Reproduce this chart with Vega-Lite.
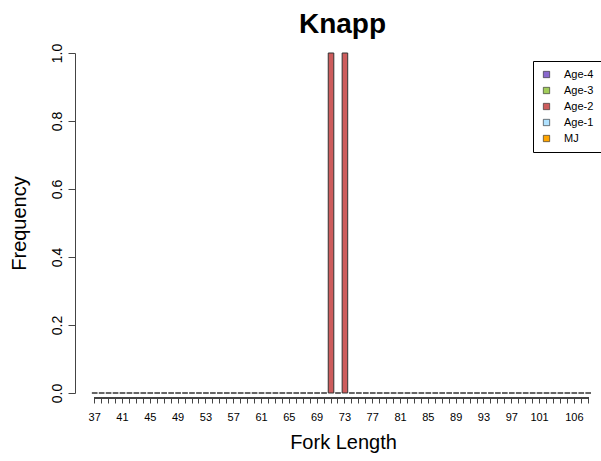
{
  "$schema": "https://vega.github.io/schema/vega-lite/v6.json",
  "width": 513,
  "height": 340,
  "autosize": "none",
  "padding": {"left": 78, "top": 53, "right": 10, "bottom": 68},
  "background": "white",
  "config": {
    "view": {"stroke": null},
    "font": "Liberation Sans"
  },
  "title": {
    "text": "Knapp",
    "fontSize": 28,
    "fontWeight": "bold",
    "font": "Liberation Sans",
    "color": "black",
    "anchor": "middle",
    "frame": "group",
    "dx": 8,
    "dy": 36,
    "offset": 18,
    "baseline": "alphabetic"
  },
  "data": {
    "values": [
      {"length": 37, "age": "Age-2", "freq": 0}, {"length": 38, "age": "Age-2", "freq": 0},
      {"length": 39, "age": "Age-2", "freq": 0}, {"length": 40, "age": "Age-2", "freq": 0},
      {"length": 41, "age": "Age-2", "freq": 0}, {"length": 42, "age": "Age-2", "freq": 0},
      {"length": 43, "age": "Age-2", "freq": 0}, {"length": 44, "age": "Age-2", "freq": 0},
      {"length": 45, "age": "Age-2", "freq": 0}, {"length": 46, "age": "Age-2", "freq": 0},
      {"length": 47, "age": "Age-2", "freq": 0}, {"length": 48, "age": "Age-2", "freq": 0},
      {"length": 49, "age": "Age-2", "freq": 0}, {"length": 50, "age": "Age-2", "freq": 0},
      {"length": 51, "age": "Age-2", "freq": 0}, {"length": 52, "age": "Age-2", "freq": 0},
      {"length": 53, "age": "Age-2", "freq": 0}, {"length": 54, "age": "Age-2", "freq": 0},
      {"length": 55, "age": "Age-2", "freq": 0}, {"length": 56, "age": "Age-2", "freq": 0},
      {"length": 57, "age": "Age-2", "freq": 0}, {"length": 58, "age": "Age-2", "freq": 0},
      {"length": 59, "age": "Age-2", "freq": 0}, {"length": 60, "age": "Age-2", "freq": 0},
      {"length": 61, "age": "Age-2", "freq": 0}, {"length": 62, "age": "Age-2", "freq": 0},
      {"length": 63, "age": "Age-2", "freq": 0}, {"length": 64, "age": "Age-2", "freq": 0},
      {"length": 65, "age": "Age-2", "freq": 0}, {"length": 66, "age": "Age-2", "freq": 0},
      {"length": 67, "age": "Age-2", "freq": 0}, {"length": 68, "age": "Age-2", "freq": 0},
      {"length": 69, "age": "Age-2", "freq": 0}, {"length": 70, "age": "Age-2", "freq": 0},
      {"length": 71, "age": "Age-2", "freq": 1}, {"length": 72, "age": "Age-2", "freq": 0},
      {"length": 73, "age": "Age-2", "freq": 1}, {"length": 74, "age": "Age-2", "freq": 0},
      {"length": 75, "age": "Age-2", "freq": 0}, {"length": 76, "age": "Age-2", "freq": 0},
      {"length": 77, "age": "Age-2", "freq": 0}, {"length": 78, "age": "Age-2", "freq": 0},
      {"length": 79, "age": "Age-2", "freq": 0}, {"length": 80, "age": "Age-2", "freq": 0},
      {"length": 81, "age": "Age-2", "freq": 0}, {"length": 82, "age": "Age-2", "freq": 0},
      {"length": 83, "age": "Age-2", "freq": 0}, {"length": 84, "age": "Age-2", "freq": 0},
      {"length": 85, "age": "Age-2", "freq": 0}, {"length": 86, "age": "Age-2", "freq": 0},
      {"length": 87, "age": "Age-2", "freq": 0}, {"length": 88, "age": "Age-2", "freq": 0},
      {"length": 89, "age": "Age-2", "freq": 0}, {"length": 90, "age": "Age-2", "freq": 0},
      {"length": 91, "age": "Age-2", "freq": 0}, {"length": 92, "age": "Age-2", "freq": 0},
      {"length": 93, "age": "Age-2", "freq": 0}, {"length": 94, "age": "Age-2", "freq": 0},
      {"length": 95, "age": "Age-2", "freq": 0}, {"length": 96, "age": "Age-2", "freq": 0},
      {"length": 97, "age": "Age-2", "freq": 0}, {"length": 98, "age": "Age-2", "freq": 0},
      {"length": 99, "age": "Age-2", "freq": 0}, {"length": 100, "age": "Age-2", "freq": 0},
      {"length": 101, "age": "Age-2", "freq": 0}, {"length": 102, "age": "Age-2", "freq": 0},
      {"length": 103, "age": "Age-2", "freq": 0}, {"length": 104, "age": "Age-2", "freq": 0},
      {"length": 105, "age": "Age-2", "freq": 0}, {"length": 106, "age": "Age-2", "freq": 0},
      {"length": 107, "age": "Age-2", "freq": 0}, {"length": 108, "age": "Age-2", "freq": 0}
    ]
  },
  "layer": [
    {
      "mark": {"type": "bar", "stroke": "#333333", "strokeWidth": 1},
      "encoding": {
        "x": {
          "field": "length",
          "type": "ordinal",
          "scale": {"paddingInner": 0.2, "paddingOuter": 1, "align": 1, "round": false},
          "axis": {
            "title": "Fork Length",
            "titleFontSize": 20,
            "titleFontWeight": "normal",
            "titleFont": "Liberation Sans",
            "titleColor": "black",
            "titleX": 265,
            "titleY": 44,
            "titleBaseline": "middle",
            "labelAngle": 0,
            "labelFontSize": 11,
            "labelColor": "black",
            "labelPadding": 8,
            "labelOverlap": false,
            "labelExpr": "indexof([37,41,45,49,53,57,61,65,69,73,77,81,85,89,93,97,101,106], datum.value) >= 0 ? datum.label : ''",
            "tickSize": 5,
            "tickColor": "#444444",
            "domain": false,
            "offset": 5,
            "grid": false
          }
        },
        "y": {
          "field": "freq",
          "type": "quantitative",
          "stack": "zero",
          "scale": {"domain": [0, 1], "nice": false},
          "axis": {
            "title": "Frequency",
            "titleFontSize": 20,
            "titleFontWeight": "normal",
            "titleFont": "Liberation Sans",
            "titleColor": "black",
            "titleAngle": -90,
            "titleX": -56,
            "titleY": 170,
            "titleAlign": "center",
            "titleBaseline": "middle",
            "values": [0, 0.2, 0.4, 0.6, 0.8, 1.0],
            "format": ".1f",
            "labelAngle": -90,
            "labelAlign": "center",
            "labelBaseline": "bottom",
            "labelFontSize": 14,
            "labelColor": "black",
            "labelPadding": 4,
            "tickSize": 7,
            "tickColor": "#444444",
            "domainColor": "#444444",
            "offset": 3,
            "grid": false
          }
        },
        "color": {
          "field": "age",
          "type": "nominal",
          "scale": {
            "domain": ["Age-4", "Age-3", "Age-2", "Age-1", "MJ"],
            "range": ["#8968CD", "#A2CD5A", "#CD5C5C", "#B0E2FF", "#FFA500"]
          },
          "legend": {
            "title": null,
            "orient": "none",
            "legendX": 455,
            "legendY": 8,
            "strokeColor": "black",
            "fillColor": "white",
            "padding": 8,
            "symbolType": "square",
            "symbolSize": 40,
            "symbolStrokeColor": "#222222",
            "symbolStrokeWidth": 0.6,
            "symbolOpacity": 1,
            "labelFontSize": 11,
            "labelColor": "black",
            "labelOffset": 12,
            "rowPadding": 4
          }
        }
      }
    },
    {
      "mark": {"type": "rule", "color": "#444444", "strokeWidth": 1, "yOffset": 5},
      "encoding": {
        "x": {"datum": 37, "type": "ordinal"},
        "x2": {"datum": 108},
        "y": {"datum": 0, "type": "quantitative"}
      }
    }
  ]
}
